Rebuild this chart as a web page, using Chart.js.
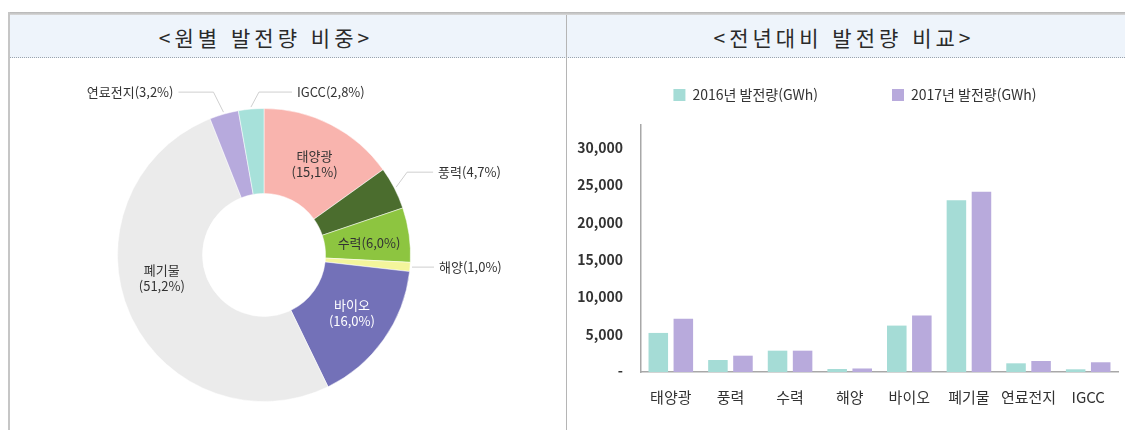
<!DOCTYPE html>
<html lang="ko">
<head>
<meta charset="utf-8">
<title>원별 발전량 비중 / 전년대비 발전량 비교</title>
<script src="https://cdn.jsdelivr.net/npm/chart.js@4.4.1/dist/chart.umd.min.js"></script>
<style>
    html, body { margin: 0; padding: 0; background: #fff; }
    #page { position: relative; width: 1125px; height: 430px; overflow: hidden; }
    .topline { position: absolute; left: 8px; top: 12px; width: 1117px; height: 3px; background: linear-gradient(#b5b5b5, #dadada); }
    .header { position: absolute; left: 10px; top: 15px; width: 1115px; height: 42px; background: #eef4fb; border-bottom: 1px dotted #9aa3ad; }
    .leftline { position: absolute; left: 8px; top: 12px; width: 2px; height: 418px; background: #c6c6c6; }
    .divider { position: absolute; left: 566px; top: 15px; width: 1px; height: 415px; background: #b5b5b5; }
    .title { position: absolute; top: 21px; height: 32px; line-height: 32px; text-align: center;
             font-family: "Noto Sans CJK KR", sans-serif; font-size: 21px; font-weight: 400; letter-spacing: 4px; color: #2a2a2a; }
    #shareChart { position: absolute; left: 10px; top: 59px; }
    #compareChart { position: absolute; left: 568px; top: 59px; }
</style>
</head>
<body>
<div id="page">
    <div class="topline"></div>
    <div class="header"></div>
    <div class="leftline"></div>
    <div class="divider"></div>
    <div class="title" style="left:10px; width:512px;">&lt;원별 발전량 비중&gt;</div>
    <div class="title" style="left:567px; width:554px;">&lt;전년대비 발전량 비교&gt;</div>
    <canvas id="shareChart" width="556" height="371"></canvas>
    <canvas id="compareChart" width="557" height="371"></canvas>
</div>

<script>
// source categories (same order for both charts)
const sources = ['태양광', '풍력', '수력', '해양', '바이오', '폐기물', '연료전지', 'IGCC'];

// share of generation, %
const sharePct = [15.1, 4.7, 6.0, 1.0, 16.0, 51.2, 3.2, 2.8];
const shareColors = ['#f9b4ae', '#4b6d2e', '#8dc540', '#f4f59c', '#7371b8', '#ebebeb', '#b7aadd', '#a7e1da'];

// generation, GWh
const gen2016 = [5220, 1600, 2850, 400, 6200, 22940, 1160, 360];
const gen2017 = [7100, 2180, 2850, 470, 7540, 24070, 1470, 1300];
const seriesNames = ['2016년 발전량(GWh)', '2017년 발전량(GWh)'];
const seriesColors = ['#a5dcd6', '#b8aadc'];

// y axis ticks
const yTicks = [0, 5000, 10000, 15000, 20000, 25000, 30000];

const FONT = '"Noto Sans CJK KR", "Noto Sans", sans-serif';
Chart.defaults.font.family = FONT;
Chart.defaults.color = '#333';

// the source uses a decimal comma
function pctText(v) {
    return v.toFixed(1).replace('.', ',') + '%';
}

/**
 * Labels and leader lines for the doughnut
 */
const donutLabels = {
    id: 'donutLabels',
    afterDatasetsDraw(chart, args, opts) {
        const ctx = chart.ctx;
        const arcs = chart.getDatasetMeta(0).data;
        ctx.save();
        ctx.font = opts.font;
        ctx.textBaseline = 'middle';

        arcs.forEach((arc, i) => {
            const inside = opts.inside[i];
            const outside = opts.outside[i];
            const pct = '(' + pctText(sharePct[i]) + ')';

            if (inside) {
                const p = arc.tooltipPosition();
                const x = p.x + inside.dx;
                const y = p.y + inside.dy;
                ctx.fillStyle = inside.color || '#333';
                ctx.textAlign = 'center';
                if (inside.oneLine) {
                    ctx.fillText(sources[i] + pct, x, y);
                } else {
                    ctx.fillText(sources[i], x, y - 8);
                    ctx.fillText(pct, x, y + 8);
                }
            }

            if (outside) {
                const { x, y, startAngle, endAngle, outerRadius } = arc.getProps(['x', 'y', 'startAngle', 'endAngle', 'outerRadius'], true);
                const mid = (startAngle + endAngle) / 2;
                const ax = x + Math.cos(mid) * (outerRadius + 2);
                const ay = y + Math.sin(mid) * (outerRadius + 2);
                const ex = ax + outside.dx;
                const ey = ay + outside.dy;
                const lx = ex + outside.side * outside.len;

                ctx.strokeStyle = '#cfcfcf';
                ctx.lineWidth = 1;
                ctx.beginPath();
                ctx.moveTo(ax, ay);
                ctx.lineTo(ex, ey);
                ctx.lineTo(lx, ey);
                ctx.stroke();

                ctx.fillStyle = '#333';
                ctx.textAlign = outside.side > 0 ? 'left' : 'right';
                ctx.fillText(sources[i] + pct, lx + outside.side * 5, ey);
            }
        });
        ctx.restore();
    }
};

/**
 * Legend with wide spacing between items
 */
const spacedLegend = {
    id: 'spacedLegend',
    afterDraw(chart, args, opts) {
        const ctx = chart.ctx;
        ctx.save();
        ctx.font = opts.font;
        ctx.textBaseline = 'middle';
        ctx.textAlign = 'left';

        const items = chart.data.datasets.map(ds => ({
            text: ds.label,
            color: ds.backgroundColor,
            w: ctx.measureText(ds.label).width
        }));
        const total = items.reduce((s, it) => s + opts.box + opts.boxGap + it.w, 0) + opts.itemGap * (items.length - 1);

        let x = opts.centerX - total / 2;
        items.forEach(it => {
            ctx.fillStyle = it.color;
            ctx.fillRect(x, opts.y - opts.box / 2, opts.box, opts.box);
            x += opts.box + opts.boxGap;
            ctx.fillStyle = '#333';
            ctx.fillText(it.text, x, opts.y);
            x += it.w + opts.itemGap;
        });
        ctx.restore();
    }
};

// left: share doughnut
new Chart(document.getElementById('shareChart'), {
    type: 'doughnut',
    data: {
        labels: sources,
        datasets: [{
            data: sharePct,
            backgroundColor: shareColors,
            borderColor: 'rgba(255, 255, 255, 0.5)',
            borderWidth: 1
        }]
    },
    options: {
        responsive: false,
        animation: false,
        cutout: '42%',
        layout: { padding: { left: 107, right: 155, top: 49, bottom: 28 } },
        plugins: {
            legend: { display: false },
            tooltip: { enabled: false },
            donutLabels: {
                font: '13px ' + FONT,
                inside: {
                    0: { dx: 3, dy: 2 },
                    2: { dx: 2, dy: 2, oneLine: true },
                    4: { dx: 3, dy: -2, color: '#fff' },
                    5: { dx: -7, dy: -19 }
                },
                outside: {
                    1: { dx: 11, dy: -15, len: 26, side: 1 },
                    3: { dx: 0, dy: 0, len: 22, side: 1 },
                    6: { dx: -10, dy: -20, len: 35, side: -1 },
                    7: { dx: 8, dy: -15, len: 33, side: 1 }
                }
            }
        }
    },
    plugins: [donutLabels]
});

// right: year-over-year bars
new Chart(document.getElementById('compareChart'), {
    type: 'bar',
    data: {
        labels: sources,
        datasets: [
            { label: seriesNames[0], data: gen2016, backgroundColor: seriesColors[0] },
            { label: seriesNames[1], data: gen2017, backgroundColor: seriesColors[1] }
        ]
    },
    options: {
        responsive: false,
        animation: false,
        categoryPercentage: 0.84,
        barPercentage: 0.78,
        layout: { padding: { left: 8, right: 7, top: 66, bottom: 8 } },
        plugins: {
            legend: { display: false },
            tooltip: { enabled: false },
            spacedLegend: {
                font: '14px ' + FONT,
                centerX: 287,
                y: 36,
                box: 12,
                boxGap: 7,
                itemGap: 74
            }
        },
        scales: {
            x: {
                grid: { display: false, drawTicks: false },
                border: { display: true, color: '#a8a8a8', width: 1.5 },
                ticks: {
                    color: '#333',
                    padding: 16,
                    autoSkip: false,
                    minRotation: 0,
                    maxRotation: 0,
                    font: { size: 15 }
                }
            },
            y: {
                min: 0,
                max: 33000,
                afterBuildTicks: axis => { axis.ticks = yTicks.map(v => ({ value: v })); },
                afterFit: axis => { axis.width = 65; },
                grid: { display: false, drawTicks: false },
                border: { display: true, color: '#a8a8a8', width: 1.5 },
                ticks: {
                    color: '#333',
                    padding: 18,
                    font: { size: 14, weight: 'bold' },
                    callback: v => v === 0 ? '-' : v.toLocaleString('en-US')
                }
            }
        }
    },
    plugins: [spacedLegend]
});
</script>
</body>
</html>
